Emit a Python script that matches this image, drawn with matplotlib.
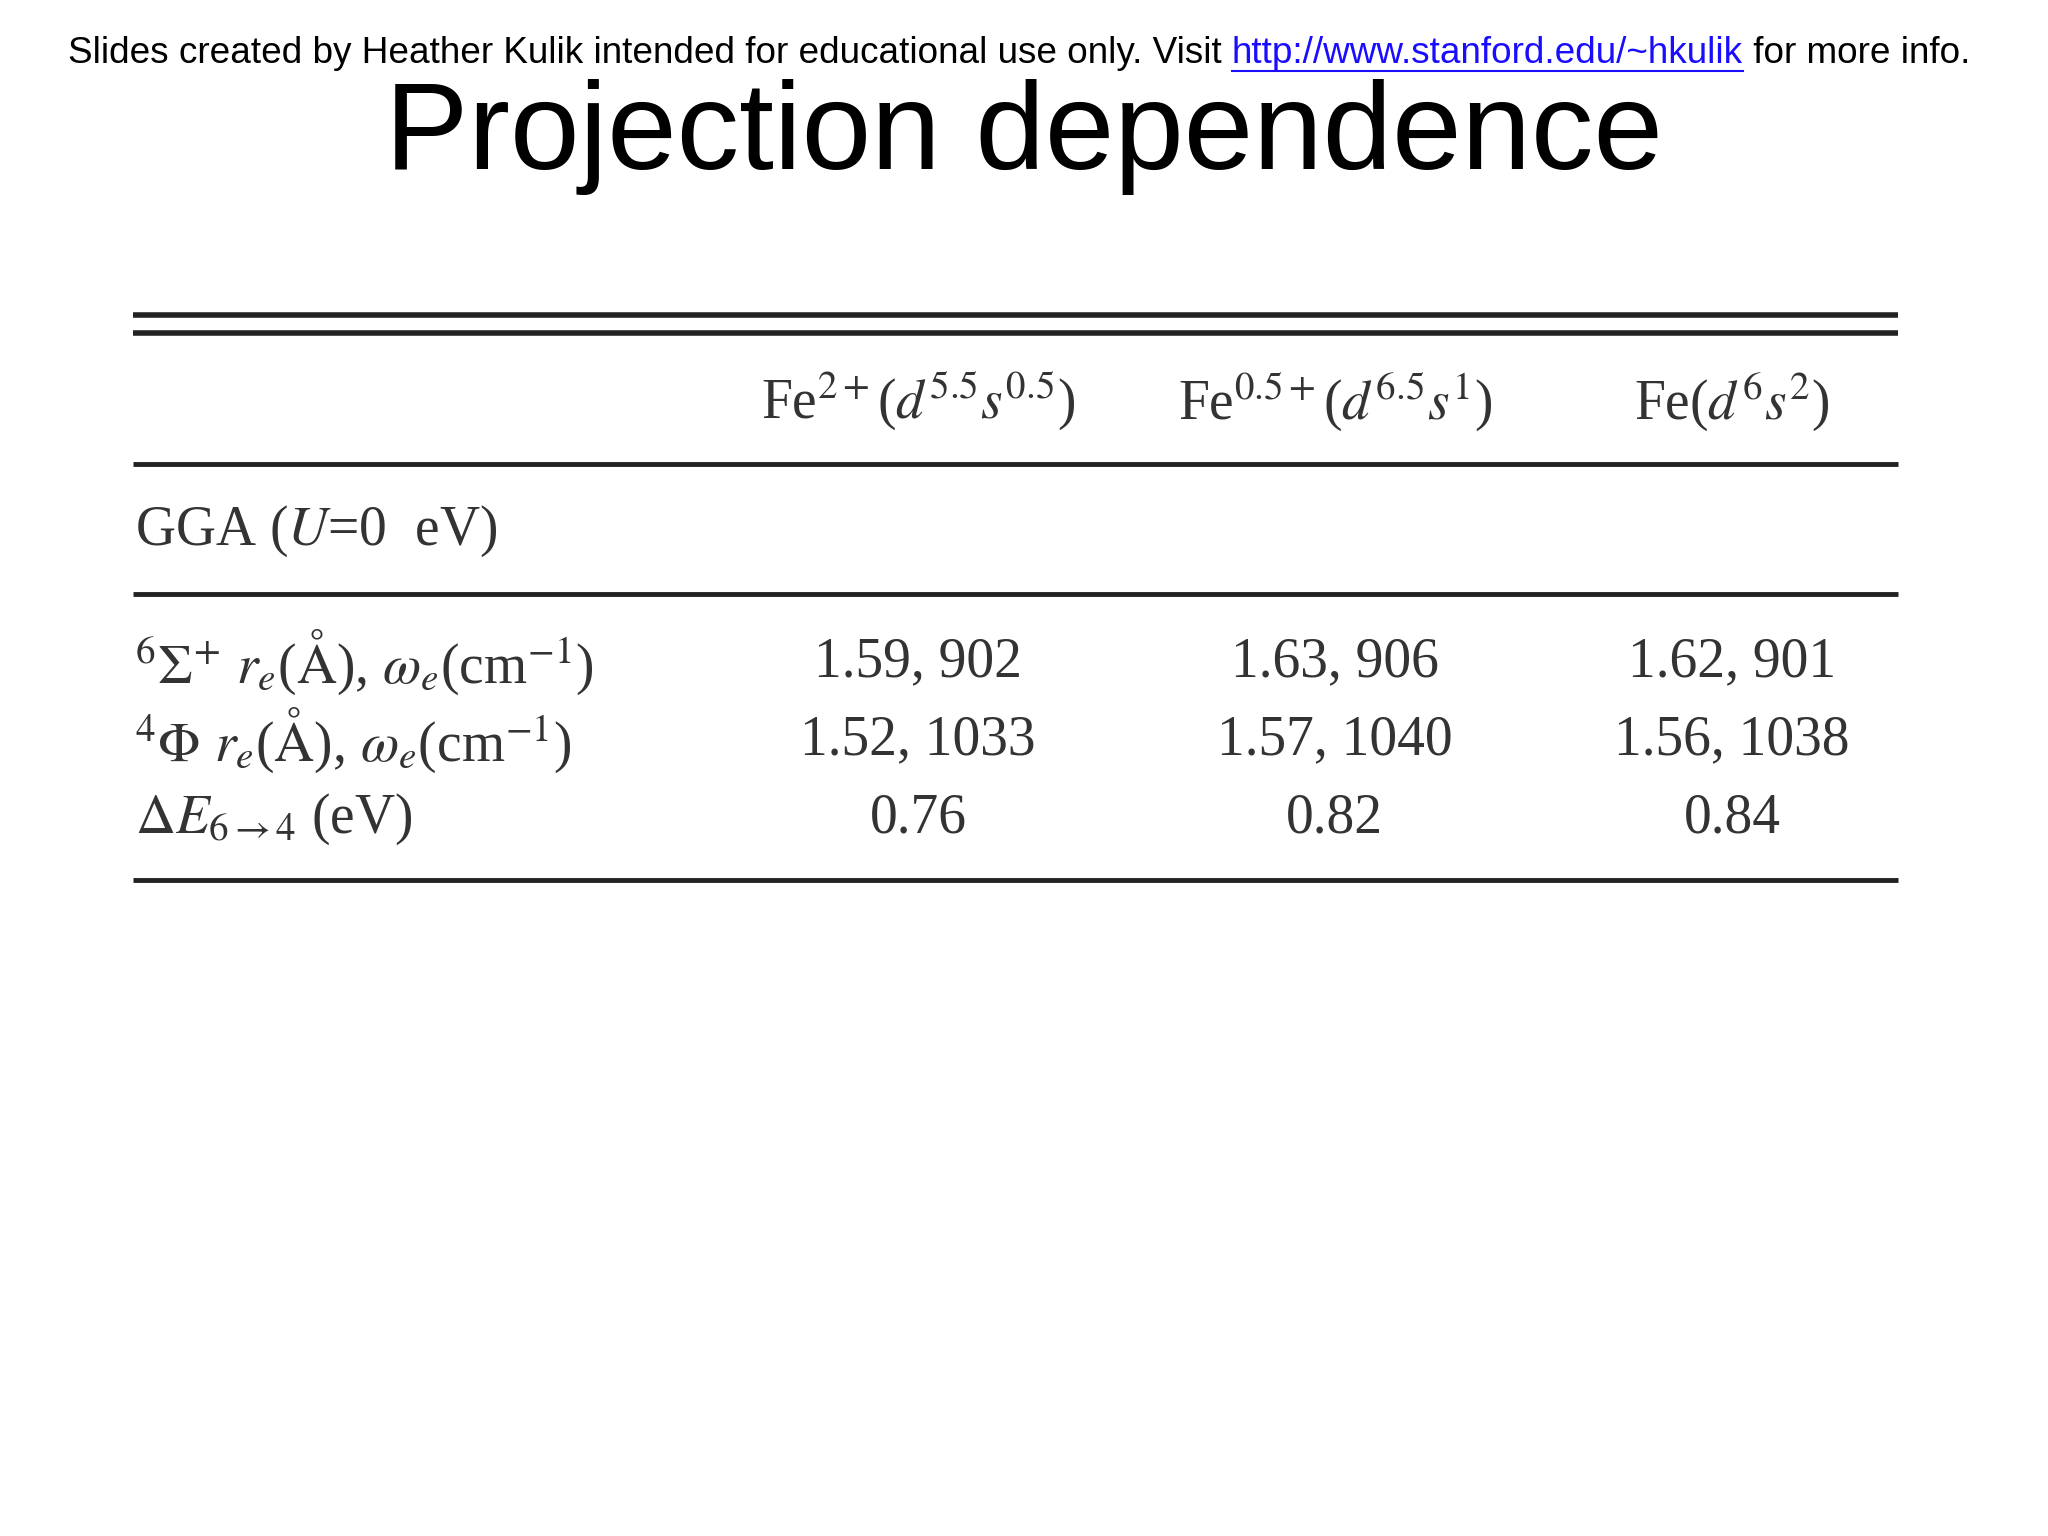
import matplotlib
matplotlib.use("Agg")
import matplotlib.pyplot as plt

plt.rcParams['mathtext.fontset'] = 'stix'

header_note = "Slides created by Heather Kulik intended for educational use only. Visit "
link = "http://www.stanford.edu/~hkulik"
header_tail = " for more info."
title = "Projection dependence"

columns = [r'Fe$^{2+}$($d^{5.5}s^{0.5}$)', r'Fe$^{0.5+}$($d^{6.5}s^{1}$)', r'Fe($d^{6}s^{2}$)']
section = r'GGA ($U$=0  eV)'
row_labels = [r'$^{6}\Sigma^{+}$ $r_e$($\mathrm{\AA}$), $\omega_e$(cm$^{-1}$)',
              r'$^{4}\Phi$ $r_e$($\mathrm{\AA}$), $\omega_e$(cm$^{-1}$)',
              r'$\Delta E_{6\rightarrow 4}$ (eV)']
row_values = [["1.59, 902", "1.63, 906", "1.62, 901"],
              ["1.52, 1033", "1.57, 1040", "1.56, 1038"],
              ["0.76", "0.82", "0.84"]]

fig = plt.figure(figsize=(20.48, 15.36), dpi=100)
ax = fig.add_axes([0, 0, 1, 1])
ax.set_xlim(0, 1568); ax.set_ylim(1176, 0); ax.axis('off')

hfs = 26.6
t1 = ax.text(52, 41, header_note, fontsize=hfs, family='Liberation Sans', va='center', ha='left')
fig.canvas.draw()
r = fig.canvas.get_renderer()
bb = t1.get_window_extent(r)
x2 = ax.transData.inverted().transform((bb.x1, 0))[0]
t2 = ax.text(x2, 41, link, fontsize=hfs, family='Liberation Sans', va='center', ha='left', color='#1a0dff')
bb2 = t2.get_window_extent(r)
x3 = ax.transData.inverted().transform((bb2.x1, 0))[0]
ax.plot([x2, x3], [54, 54], color='#1a0dff', lw=1.5)
ax.text(x3, 41, header_tail, fontsize=hfs, family='Liberation Sans', va='center', ha='left')

ax.text(784, 105, title, fontsize=90, family='Liberation Sans', ha='center', va='center')

tc = '#333333'
for y, w in [(241, 4), (255, 4), (355, 3.5), (455, 3.5), (674, 3.5)]:
    ax.plot([102, 1453], [y, y], color='#222222', lw=w, solid_capstyle='butt')

colx = [703, 1022, 1326]
fs = 40
for x, c in zip(colx, columns):
    ax.text(x, 307, c, fontsize=fs, family='Liberation Serif', ha='center', va='center', color=tc)
ax.text(103, 407, section, fontsize=fs, family='Liberation Serif', ha='left', va='center', color=tc)
for i, (lab, vals) in enumerate(zip(row_labels, row_values)):
    y = 507 + 60 * i
    ax.text(103, y, lab, fontsize=fs, family='Liberation Serif', ha='left', va='center', color=tc)
    for x, v in zip(colx, vals):
        ax.text(x, y, v, fontsize=fs, family='Liberation Serif', ha='center', va='center', color=tc)

fig.savefig('out.png', dpi=100)
